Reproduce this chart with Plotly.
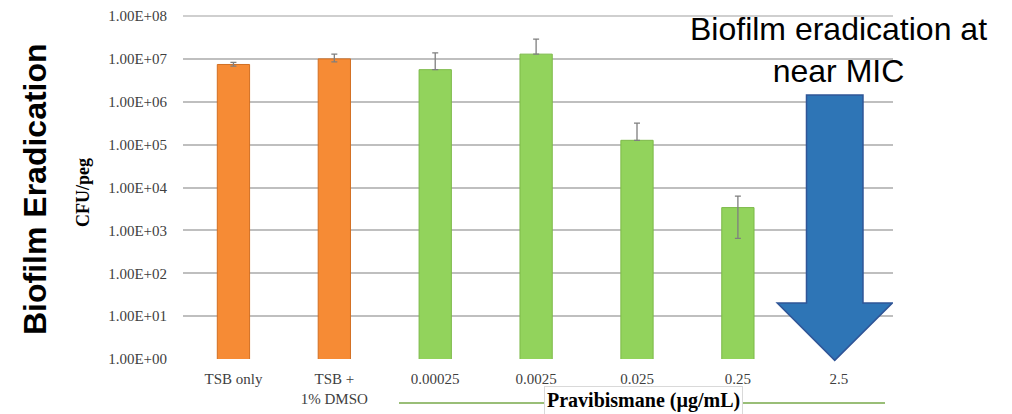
import plotly.graph_objects as go

categories = ["TSB only", "TSB +<br>1% DMSO", "0.00025", "0.0025", "0.025", "0.25", "2.5"]
cfu_values = [7.4e6, 1.0e7, 5.6e6, 1.29e7, 1.26e5, 3.4e3, None]
err_plus = [0.9e6, 2.9e6, 8.2e6, 1.6e7, 1.9e5, 2.9e3, 0]
err_minus = [0.6e6, 1.5e6, 0, 0, 0, 2.75e3, 0]
bar_colors = ["#F68B35", "#F68B35", "#92D35C", "#92D35C", "#92D35C", "#92D35C", "#92D35C"]
bar_edges = ["#D26F22", "#D26F22", "#7DB94A", "#7DB94A", "#7DB94A", "#7DB94A", "#7DB94A"]
tick_vals = [1, 10, 100, 1e3, 1e4, 1e5, 1e6, 1e7, 1e8]
tick_text = ["1.00E+00", "1.00E+01", "1.00E+02", "1.00E+03", "1.00E+04",
             "1.00E+05", "1.00E+06", "1.00E+07", "1.00E+08"]

fig = go.Figure()
fig.add_trace(go.Bar(
    x=categories, y=cfu_values, width=0.32,
    marker=dict(color=bar_colors, line=dict(color=bar_edges, width=1)),
    error_y=dict(type="data", symmetric=False, array=err_plus, arrayminus=err_minus,
                 color="#7F7F7F", thickness=1.3, width=3),
))

serif = "Liberation Serif, Times New Roman, serif"
sans = "Liberation Sans, Arial, sans-serif"
fig.update_layout(
    width=1012, height=414,
    margin=dict(l=183, r=119, t=16, b=55),
    plot_bgcolor="white", paper_bgcolor="white",
    showlegend=False,
    xaxis=dict(type="category", showgrid=False, showline=False, ticks="",
               ticklabelstandoff=9, automargin=False,
               tickfont=dict(family=serif, size=15, color="#404040")),
    yaxis=dict(type="log", range=[0, 8], tickvals=tick_vals, ticktext=tick_text,
               showgrid=True, gridcolor="#BFBFBF", gridwidth=1.5, zeroline=False,
               showline=False, ticks="", ticklabelstandoff=15, automargin=False,
               tickfont=dict(family=serif, size=15, color="#404040")),
)

# top gridline at 1.00E+08 (edge of range)
fig.add_shape(type="line", xref="x domain", yref="y domain", x0=0, x1=1, y0=1, y1=1,
              line=dict(color="#BFBFBF", width=1.5), layer="below")

# Arrow pointing down at the 2.5 category
ax_c = 6
fig.add_shape(type="path", xref="x", yref="y domain",
              path=(f"M{ax_c-0.32},0.77 L{ax_c+0.24},0.77 L{ax_c+0.24},0.163 "
                    f"L{ax_c+0.53},0.163 L{ax_c-0.04},-0.004 L{ax_c-0.61},0.163 "
                    f"L{ax_c-0.32},0.163 Z"),
              fillcolor="#2E75B6", line=dict(color="#2F5597", width=1.5))

fig.add_annotation(text="Biofilm eradication at<br>near MIC", xref="paper", yref="paper",
                   x=(838 - 183) / 710, y=(359 - 50) / 343, showarrow=False,
                   xanchor="center", yanchor="middle",
                   font=dict(family=sans, size=32, color="black"),
                   align="center")

fig.add_annotation(text="<b>Biofilm Eradication</b>", xref="paper", yref="paper",
                   x=(35 - 183) / 710, y=(359 - 189) / 343, textangle=-90, showarrow=False,
                   xanchor="center", yanchor="middle",
                   font=dict(family=sans, size=32, color="black"))

fig.add_annotation(text="<b>CFU/peg</b>", xref="paper", yref="paper",
                   x=(83 - 183) / 710, y=(359 - 193) / 343, textangle=-90, showarrow=False,
                   xanchor="center", yanchor="middle",
                   font=dict(family=serif, size=18, color="black"))

fig.add_shape(type="line", xref="paper", yref="paper",
              x0=(399 - 183) / 710, x1=(885 - 183) / 710,
              y0=(359 - 403) / 343, y1=(359 - 403) / 343,
              line=dict(color="#77A84A", width=1.5))

fig.add_annotation(text="<b>Pravibismane (µg/mL)</b>", xref="paper", yref="paper",
                   x=(643 - 183) / 710, y=(359 - 401) / 343, showarrow=False,
                   xanchor="center", yanchor="middle",
                   bgcolor="white", bordercolor="#D9D9D9", borderwidth=1, borderpad=2,
                   font=dict(family=serif, size=20, color="black"))

fig.write_html("out.html", config={"displayModeBar": False},
               post_script="document.body.style.margin='0';")
